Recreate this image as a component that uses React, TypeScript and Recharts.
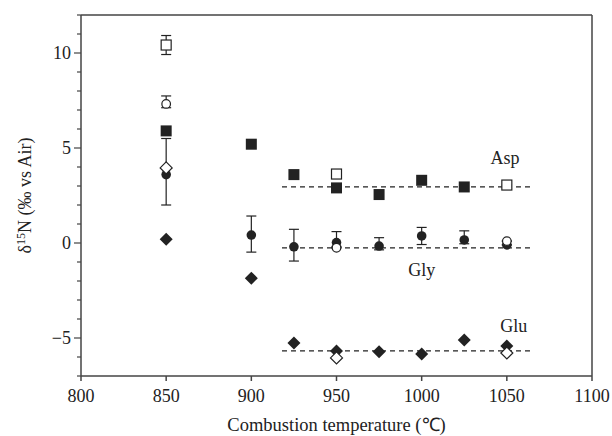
import { ScatterChart, Scatter, XAxis, YAxis, ErrorBar, ReferenceLine } from 'recharts'

const X_TICKS = [800, 850, 900, 950, 1000, 1050, 1100]
const Y_TICKS = [-7, -6, -5, -4, -3, -2, -1, 0, 1, 2, 3, 4, 5, 6, 7, 8, 9, 10, 11, 12]

const ASP_FILLED_X = [850, 900, 925, 950, 975, 1000, 1025]
const ASP_FILLED_Y = [5.9, 5.2, 3.6, 2.9, 2.55, 3.3, 2.95]
const ASP_OPEN_X = [850, 950, 1050]
const ASP_OPEN_Y = [10.42, 3.63, 3.05]
const ASP_OPEN_ERR = [[0.5, 0.5], [0, 0], [0, 0]]

const GLY_FILLED_X = [850, 900, 925, 950, 975, 1000, 1025, 1050]
const GLY_FILLED_Y = [3.6, 0.42, -0.2, 0.02, -0.16, 0.37, 0.16, -0.1]
// [below, above]
const GLY_FILLED_ERR = [[1.6, 1.9], [0.9, 1.0], [0.75, 0.92], [0.2, 0.58], [0.2, 0.44], [0.45, 0.45], [0.2, 0.48], [0, 0]]
const GLY_OPEN_X = [850, 950, 1050]
const GLY_OPEN_Y = [7.32, -0.25, 0.1]
const GLY_OPEN_ERR = [[0.2, 0.42], [0, 0], [0, 0]]

const GLU_FILLED_X = [850, 900, 925, 950, 975, 1000, 1025, 1050]
const GLU_FILLED_Y = [0.2, -1.85, -5.26, -5.68, -5.73, -5.84, -5.1, -5.42]
const GLU_OPEN_X = [850, 950, 1050]
const GLU_OPEN_Y = [3.95, -6.05, -5.79]

// mean lines (dashed)
const FIT_X = [918, 1065]
const ASP_MEAN = 2.95
const GLY_MEAN = -0.26
const GLU_MEAN = -5.68

const LABEL_NAMES = ['Asp', 'Gly', 'Glu']
const LABEL_X = [1049, 1000, 1054]
const LABEL_Y = [4.15, -1.75, -4.7]

const INK = '#222'
const FONT = 'Liberation Serif, serif'

const zip = (xs: number[], ys: number[], errs?: number[][]) =>
  xs.map((x, i) => ({ x, y: ys[i], err: errs ? errs[i] : [0, 0] }))

const labels = LABEL_NAMES.map((name, i) => ({ name, x: LABEL_X[i], y: LABEL_Y[i] }))

const Nothing = () => <g />
const FilledSquare = ({ cx, cy }: any) => <rect x={cx - 5.5} y={cy - 5.5} width={11} height={11} fill={INK} />
const OpenSquare = ({ cx, cy }: any) => (
  <rect x={cx - 5} y={cy - 5} width={10} height={10} fill="#fff" stroke={INK} strokeWidth={1.2} />
)
const FilledCircle = ({ cx, cy }: any) => <circle cx={cx} cy={cy} r={4.8} fill={INK} />
const OpenCircle = ({ cx, cy }: any) => <circle cx={cx} cy={cy} r={4.3} fill="#fff" stroke={INK} strokeWidth={1.2} />
const FilledDiamond = ({ cx, cy }: any) => (
  <path d={`M${cx},${cy - 6.5}L${cx + 6.5},${cy}L${cx},${cy + 6.5}L${cx - 6.5},${cy}Z`} fill={INK} />
)
const OpenDiamond = ({ cx, cy }: any) => (
  <path d={`M${cx},${cy - 6}L${cx + 6},${cy}L${cx},${cy + 6}L${cx - 6},${cy}Z`} fill="#fff" stroke={INK} strokeWidth={1.2} />
)
const TextMark = ({ cx, cy, payload }: any) => (
  <text x={cx} y={cy} textAnchor="middle" fontSize={18} fill={INK} style={{ fontFamily: FONT }}>{payload.name}</text>
)

const YTick = ({ x, y, payload }: any) => {
  const v = payload.value
  const major = v % 5 === 0
  return (
    <g>
      <line x1={x - (major ? 7 : 4)} x2={x} y1={y} y2={y} stroke="#444" strokeWidth={1.2} />
      {major && (
        <text x={x - 10} y={y} dy="0.35em" textAnchor="end" fontSize={18} fill={INK} style={{ fontFamily: FONT }}>
          {v < 0 ? '\u2212' + Math.abs(v) : v}
        </text>
      )}
    </g>
  )
}

const YLabel = ({ viewBox }: any) => {
  const cx = 25
  const cy = viewBox.y + viewBox.height / 2
  return (
    <text x={cx} y={cy} transform={`rotate(-90, ${cx}, ${cy})`} textAnchor="middle" dy="0.35em"
      fontSize={18} fill={INK} style={{ fontFamily: FONT }}>
      δ<tspan dy={-6} fontSize={12}>15</tspan><tspan dy={6}>N (‰ vs Air)</tspan>
    </text>
  )
}

export default function App() {
  return (
    <div style={{ position: 'absolute', left: 0, top: 0, width: 612, height: 436, background: '#fff', fontFamily: FONT }}>
      <ScatterChart width={612} height={436} margin={{ top: 15, right: 20, bottom: 0, left: 0 }} style={{ fontFamily: FONT }}>
        <XAxis type="number" dataKey="x" domain={[800, 1100]} ticks={X_TICKS} allowDataOverflow
          height={60} tickSize={5} tickMargin={8} stroke="#444" strokeWidth={1.5}
          tick={{ fontSize: 18, fill: INK }}
          label={{ value: 'Combustion temperature (\u2103)', position: 'insideBottom', offset: 5, fontSize: 18.5, fill: INK }} />
        <YAxis type="number" dataKey="y" domain={[-7, 12]} ticks={Y_TICKS} allowDataOverflow interval={0}
          width={81} tickSize={0} tickMargin={0} tickLine={false} stroke="#444" strokeWidth={1.5}
          tick={<YTick />} label={<YLabel />} />
        <ReferenceLine y={12} stroke="#444" strokeWidth={1.5} />
        <ReferenceLine x={1100} stroke="#444" strokeWidth={1.5} />
        <ReferenceLine segment={FIT_X.map(x => ({ x, y: ASP_MEAN }))} stroke={INK} strokeWidth={1.2} strokeDasharray="5 4" />
        <ReferenceLine segment={FIT_X.map(x => ({ x, y: GLY_MEAN }))} stroke={INK} strokeWidth={1.2} strokeDasharray="5 4" />
        <ReferenceLine segment={FIT_X.map(x => ({ x, y: GLU_MEAN }))} stroke={INK} strokeWidth={1.2} strokeDasharray="5 4" />

        {/* error bars only, markers drawn on top below */}
        <Scatter data={zip(GLY_FILLED_X, GLY_FILLED_Y, GLY_FILLED_ERR)} shape={<Nothing />} isAnimationActive={false}>
          <ErrorBar dataKey="err" direction="y" width={5} stroke={INK} strokeWidth={1.2} />
        </Scatter>
        <Scatter data={zip(ASP_OPEN_X, ASP_OPEN_Y, ASP_OPEN_ERR)} shape={<Nothing />} isAnimationActive={false}>
          <ErrorBar dataKey="err" direction="y" width={5} stroke={INK} strokeWidth={1.2} />
        </Scatter>
        <Scatter data={zip(GLY_OPEN_X, GLY_OPEN_Y, GLY_OPEN_ERR)} shape={<Nothing />} isAnimationActive={false}>
          <ErrorBar dataKey="err" direction="y" width={5} stroke={INK} strokeWidth={1.2} />
        </Scatter>

        <Scatter data={zip(ASP_FILLED_X, ASP_FILLED_Y)} shape={<FilledSquare />} isAnimationActive={false} />
        <Scatter data={zip(GLY_FILLED_X, GLY_FILLED_Y)} shape={<FilledCircle />} isAnimationActive={false} />
        <Scatter data={zip(GLU_FILLED_X, GLU_FILLED_Y)} shape={<FilledDiamond />} isAnimationActive={false} />
        <Scatter data={zip(ASP_OPEN_X, ASP_OPEN_Y)} shape={<OpenSquare />} isAnimationActive={false} />
        <Scatter data={zip(GLY_OPEN_X, GLY_OPEN_Y)} shape={<OpenCircle />} isAnimationActive={false} />
        <Scatter data={zip(GLU_OPEN_X, GLU_OPEN_Y)} shape={<OpenDiamond />} isAnimationActive={false} />
        <Scatter data={labels} shape={<TextMark />} isAnimationActive={false} />
      </ScatterChart>
    </div>
  )
}
